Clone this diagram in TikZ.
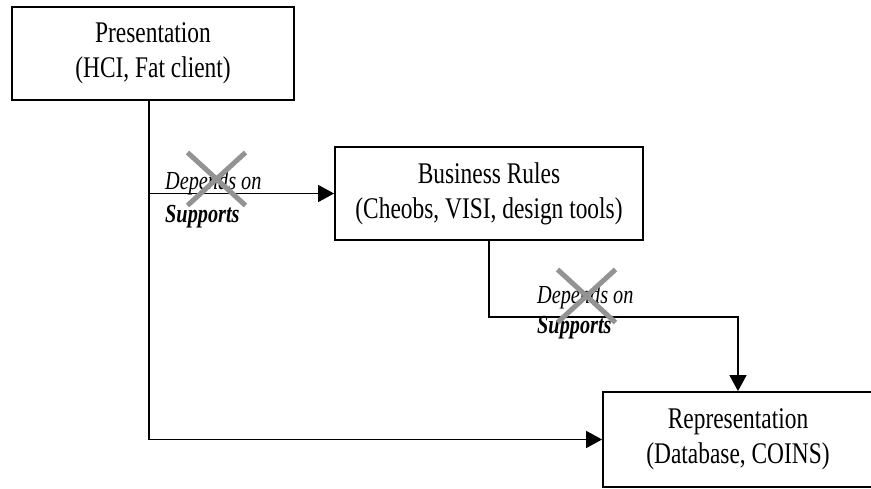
\documentclass[tikz,border=0pt]{standalone}
\usepackage{fontspec}
\setmainfont{Liberation Serif}
\newfontfamily\tallserif[FakeStretch=0.78]{Liberation Serif}
\usetikzlibrary{arrows.meta,shapes.misc}

\tikzset{
  tier/.style={draw=black, rectangle, align=center, inner sep=0pt, line width=1.8pt,
    font=\tallserif\fontsize{30}{35}\selectfont},
  link/.style={line width=1.6pt, -{Triangle[length=16pt,width=17pt]}},
  deplabel/.style={anchor=base west, inner sep=0pt, font=\tallserif\fontsize{26}{28}\selectfont\itshape},
  suplabel/.style={anchor=base west, inner sep=0pt, font=\tallserif\fontsize{26}{28}\selectfont\bfseries\itshape},
  struck/.style={cross out, draw=gray!85, line width=5pt, inner sep=0pt},
}

\begin{document}
\begin{tikzpicture}[x=1pt, y=-1pt]
  \useasboundingbox (0,0) rectangle (871,488);

  \node[tier, minimum width=282pt, minimum height=93pt] (pres) at (153,53.5) {Presentation\\(HCI, Fat client)};
  \node[tier, minimum width=308pt, minimum height=93pt] (biz) at (489,193.5) {Business Rules\\(Cheobs, VISI, design tools)};
  \node[tier, minimum width=270pt, minimum height=95pt] (repr) at (738,439.5) {Representation\\(Database, COINS)};

  \coordinate (b1) at (149,193.5);
  \coordinate (b2) at (489,317);

  % presentation -> business rules / representation
  \draw[link] (pres.south -| b1) |- (repr.west);
  \draw[link] (b1) -- (biz.west);
  % business rules -> representation
  \draw[link] (biz.south) -- (b2) -| (repr.north);

  \node[deplabel] (dep1) at (165,189) {Depends on};
  \node[suplabel] (sup1) at (165,222) {Supports};
  \node[struck, minimum width=53pt, minimum height=48pt] (x1) at (216.5,179) {};

  \node[deplabel] (dep2) at (537,303) {Depends on};
  \node[suplabel] (sup2) at (537,333) {Supports};
  \node[struck, minimum width=53pt, minimum height=48pt] (x2) at (586.5,296) {};
\end{tikzpicture}
\end{document}
